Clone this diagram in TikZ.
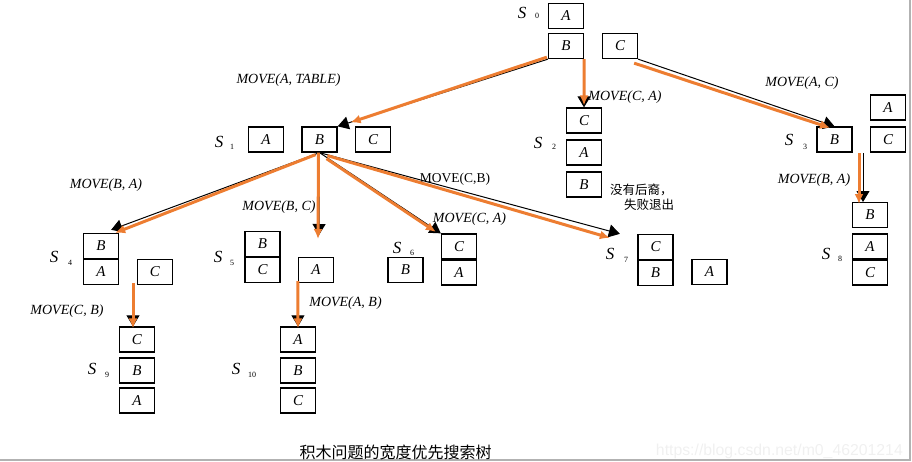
\documentclass[tikz,border=0pt]{standalone}
\usepackage{fontspec}
\setmainfont{Liberation Serif}
\newfontfamily\cjk{Noto Sans CJK SC}
\newfontfamily\wmfont{Liberation Sans}
\usetikzlibrary{arrows.meta,calc}
\definecolor{mvorange}{RGB}{237,125,49}
\tikzset{
  blk/.style={draw,line width=1.3pt,minimum width=35pt,minimum height=25pt,inner sep=0pt,font=\fontsize{15}{15}\selectfont\itshape},
  slab/.style={inner sep=0pt,font=\fontsize{17}{17}\selectfont\itshape},
  snum/.style={inner sep=0pt,font=\fontsize{8}{8}\selectfont},
  mvlab/.style={inner sep=0pt,font=\fontsize{14}{14}\selectfont\itshape},
  blackarr/.style={-{Triangle[length=11pt,width=13pt]},line width=1pt,black},
  orangearr/.style={-{Latex[length=10pt,width=9pt]},line width=3pt,mvorange},
}

\begin{document}
\begin{tikzpicture}[x=1pt,y=-1pt]
\useasboundingbox (0,0) rectangle (912,461);
\draw [line width=2pt,black!30] (0,460) -- (910,460) -- (910,0);

% blocks of each state
\node[blk] (s0A) at (566,16) {A};
\node[blk] (s0B) at (566,46) {B};
\node[blk] (s0C) at (620,46) {C};
\node[blk] (s1A) at (266,139.5) {A};
\node[blk] (s1B) at (319.5,139.5) {B};
\node[blk] (s1C) at (373,139.5) {C};
\node[blk] (s2C) at (584,120.5) {C};
\node[blk] (s2A) at (584,152.5) {A};
\node[blk] (s2B) at (584,184.5) {B};
\node[blk] (s3A) at (888,107.5) {A};
\node[blk] (s3B) at (834.5,139.5) {B};
\node[blk] (s3C) at (888,139.5) {C};
\node[blk] (s4B) at (101,246) {B};
\node[blk] (s4A) at (101,272) {A};
\node[blk] (s4C) at (155,272) {C};
\node[blk] (s5B) at (262.5,244) {B};
\node[blk] (s5C) at (262.5,270) {C};
\node[blk] (s5A) at (316,270) {A};
\node[blk] (s6B) at (405.5,270) {B};
\node[blk] (s6C) at (459,246.5) {C};
\node[blk] (s6A) at (459,272.5) {A};
\node[blk] (s7C) at (655.5,247) {C};
\node[blk] (s7B) at (655.5,273) {B};
\node[blk] (s7A) at (709.5,272) {A};
\node[blk] (s8B) at (870,215) {B};
\node[blk] (s8A) at (870,246.5) {A};
\node[blk] (s8C) at (870,272.5) {C};
\node[blk] (s9C) at (137,339.5) {C};
\node[blk] (s9B) at (137,370.5) {B};
\node[blk] (s9A) at (137,400.5) {A};
\node[blk] (s10A) at (298,339.5) {A};
\node[blk] (s10B) at (298,370.5) {B};
\node[blk] (s10C) at (298,400.5) {C};

% state names
\foreach \n/\x/\y/\u/\v in {0/522/13/537/16, 1/219/142/232/147, 2/538/143/554/147,
    3/789/140/805/147, 4/54/257/70/263, 5/218/257/232/263, 6/397/247.5/412/253,
    7/610/254/626/260, 8/826/254/840/259, 9/92/369/107/375, 10/236/369/252/375}
  {\node[slab] (s\n) at (\x,\y) {S};
   \node[snum] (s\n n) at (\u,\v) {\n};}

% moves
\node[mvlab] (mvAT) at (288.5,80) {MOVE(A, TABLE)};
\node[mvlab] (mvCA) at (625,97) {MOVE(C, A)};
\node[mvlab] (mvAC) at (802,83) {MOVE(A, C)};
\node[mvlab] (mvBA) at (106,185) {MOVE(B, A)};
\node[mvlab] (mvBC) at (279,207) {MOVE(B, C)};
\node[inner sep=0pt,font=\fontsize{13.5}{13.5}\selectfont] (mvCB) at (455,179) {MOVE(C,B)};
\node[mvlab] (mvCAb) at (469.5,219.5) {MOVE(C, A)};
\node[mvlab] (mvBAb) at (814,180) {MOVE(B, A)};
\node[mvlab] (mvCBb) at (67,311) {MOVE(C, B)};
\node[mvlab] (mvAB) at (345.5,303) {MOVE(A, B)};

\node[anchor=west,inner sep=0pt,font=\cjk\fontsize{12.5}{12.5}\selectfont] (nokid) at (610,190) {没有后裔，};
\node[anchor=west,inner sep=0pt,font=\cjk\fontsize{12.5}{12.5}\selectfont] (fail) at (624,205) {失败退出};
\node[inner sep=0pt,font=\cjk\fontsize{16}{16}\selectfont] (title) at (395.5,452) {积木问题的宽度优先搜索树};
\node[anchor=east,inner sep=0pt,text=black!6,font=\wmfont\fontsize{15.8}{15.8}\selectfont] (wm) at (903,451) {https://blog.csdn.net/m0\_46201214};

% free ends
\coordinate (t5) at (319,235);
\coordinate (b8) at (863,153);
\coordinate (t8) at (863,202);
\coordinate (b9) at (133,285);

% black arrows
\draw [blackarr] (s0B.south west) -- (s1B.north east);
\draw [blackarr] (s0B.south east) -- (s2C.north);
\draw [blackarr] (s0C.south east) -- (s3B.north);
\draw [blackarr] (s1B.south) -- ([xshift=-8pt,yshift=3pt]s4B.north east);
\draw [blackarr] (s1B.south) -- (t5);
\draw [blackarr] (s1B.south) -- (s6C.north west);
\draw [blackarr] (s1B.south) -- ([xshift=-17.5pt]s7C.north west);
\draw [blackarr] (b8) -- (t8);
\draw [blackarr] (b9) -- ([xshift=-4pt]s9C.north);
\draw [blackarr] (s5A.south west) -- (s10A.north);

% orange arrows
\draw [orangearr] ([xshift=-1pt,yshift=2pt]s0B.south west) -- ([xshift=13pt,yshift=4pt]s1B.north east);
\draw [orangearr] (s0B.south east) -- ([yshift=2pt]s2C.north);
\draw [orangearr] ([xshift=-4pt,yshift=-4pt]s0C.south east) -- ([xshift=-4.5pt,yshift=-1.5pt]s3B.north);
\draw [orangearr] ([xshift=-4pt,yshift=-2pt]s1B.south) -- ([xshift=-4pt]s4B.north east);
\draw [orangearr] ([xshift=-1pt]s1B.south) -- ([xshift=-1pt,yshift=-4pt]t5);
\draw [orangearr] ([xshift=7pt,yshift=-6pt]s1B.south) -- ([xshift=-5pt,yshift=1.5pt]s6C.north west);
\draw [orangearr] ([xshift=8pt,yshift=-3pt]s1B.south) -- ([xshift=-27.5pt,yshift=-4pt]s7C.north west);
\draw [orangearr] ([xshift=-4pt]b8) -- ([xshift=-4pt,yshift=-2pt]t8);
\draw [orangearr] ([yshift=2pt]b9) -- ([xshift=-4pt,yshift=-2pt]s9C.north);
\draw [orangearr] ([yshift=2pt]s5A.south west) -- ([yshift=-2pt]s10A.north);

\end{tikzpicture}
\end{document}
